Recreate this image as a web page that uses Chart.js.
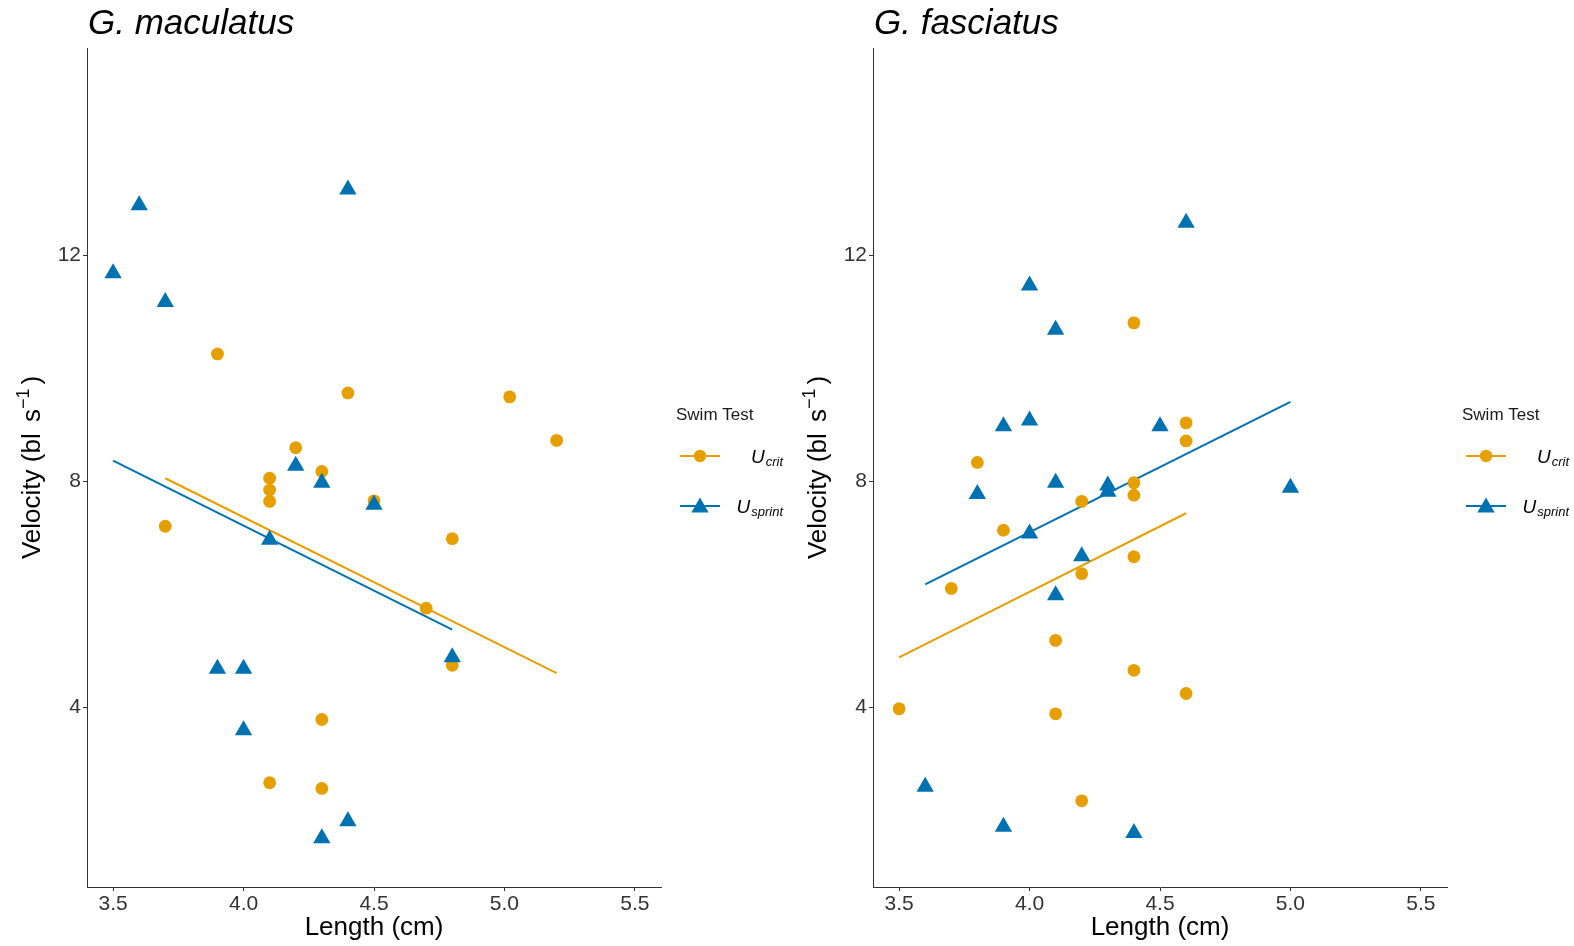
<!DOCTYPE html>
<html>
<head>
<meta charset="utf-8">
<title>Swim performance vs length</title>
<script src="https://cdn.jsdelivr.net/npm/chart.js@4.4.1/dist/chart.umd.min.js"></script>
<style>
  html, body { margin: 0; padding: 0; background: #fff; }
  #wrap { position: relative; width: 1574px; height: 946px; overflow: hidden; }
  canvas { position: absolute; top: 0; }
  #maculatus { left: 0; }
  #fasciatus { left: 786px; }
</style>
</head>
<body>
<div id="wrap">
  <canvas id="maculatus" width="787" height="946"></canvas>
  <canvas id="fasciatus" width="787" height="946"></canvas>
</div>
<script>
// G. maculatus
const macCritLength = [3.7, 3.9, 4.1, 4.1, 4.1, 4.1, 4.2, 4.3, 4.3, 4.3, 4.4, 4.5, 4.7, 4.8, 4.8, 5.02, 5.2];
const macCritVelocity = [7.21, 10.26, 8.06, 7.85, 7.65, 2.67, 8.60, 8.18, 3.79, 2.57, 9.57, 7.66, 5.76, 6.99, 4.75, 9.50, 8.73];
const macSprintLength = [3.5, 3.6, 3.7, 3.9, 4.0, 4.0, 4.1, 4.2, 4.3, 4.3, 4.4, 4.4, 4.5, 4.8];
const macSprintVelocity = [11.69, 12.89, 11.18, 4.69, 4.69, 3.60, 6.97, 8.28, 7.98, 1.69, 13.17, 1.99, 7.59, 4.89];
const macCritFitLength = [3.7, 5.2];
const macCritFitVelocity = [8.06, 4.61];
const macSprintFitLength = [3.5, 4.8];
const macSprintFitVelocity = [8.37, 5.38];

// G. fasciatus
const fasCritLength = [3.5, 3.7, 3.8, 3.9, 4.1, 4.1, 4.2, 4.2, 4.2, 4.4, 4.4, 4.4, 4.4, 4.4, 4.6, 4.6, 4.6];
const fasCritVelocity = [3.98, 6.11, 8.34, 7.14, 5.19, 3.89, 7.65, 6.37, 2.35, 10.81, 7.98, 7.76, 6.67, 4.66, 9.04, 8.72, 4.25];
const fasSprintLength = [3.6, 3.8, 3.9, 3.9, 4.0, 4.0, 4.0, 4.1, 4.1, 4.1, 4.2, 4.3, 4.3, 4.4, 4.5, 4.6, 5.0];
const fasSprintVelocity = [2.60, 7.78, 8.98, 1.89, 11.47, 9.08, 7.08, 10.69, 7.98, 5.99, 6.68, 7.93, 7.82, 1.78, 8.98, 12.58, 7.89];
const fasCritFitLength = [3.5, 4.6];
const fasCritFitVelocity = [4.89, 7.44];
const fasSprintFitLength = [3.6, 5.0];
const fasSprintFitVelocity = [6.18, 9.41];

const lengthTicks = [3.5, 4.0, 4.5, 5.0, 5.5];
const velocityTicks = [4, 8, 12];

const critColor = '#E69F00';
const sprintColor = '#0072B2';
const fontFamily = '"Liberation Sans", Arial, Helvetica, sans-serif';
const axisColor = '#333333';

const toPoints = (xs, ys) => xs.map((x, i) => ({ x: x, y: ys[i] }));

function drawMarker(ctx, style, radius, x, y, color) {
    ctx.fillStyle = color;
    ctx.beginPath();
    if (style === 'triangle') {
        for (let k = 0; k < 3; k++) {
            const a = k * 2 * Math.PI / 3;
            const px = x + Math.sin(a) * radius;
            const py = y - Math.cos(a) * radius;
            if (k === 0) ctx.moveTo(px, py); else ctx.lineTo(px, py);
        }
        ctx.closePath();
    } else {
        ctx.arc(x, y, radius, 0, Math.PI * 2);
    }
    ctx.fill();
}

// Panel title, y-axis title with superscript, and the "Swim Test" key
const panelDecor = {
    id: 'panelDecor',
    afterDraw(chart, args, opts) {
        const ctx = chart.ctx;
        const area = chart.chartArea;
        ctx.save();

        // title
        ctx.fillStyle = '#000';
        ctx.textAlign = 'left';
        ctx.textBaseline = 'alphabetic';
        ctx.font = 'italic 35px ' + fontFamily;
        ctx.fillText(opts.title, area.left + 1, 34);

        // y-axis title: Velocity (bl  s^-1 )
        const parts = [
            { text: 'Velocity (bl s', size: 26, rise: 0, gap: 4 },
            { text: '\u22121', size: 18, rise: 11, gap: 0 },
            { text: ')', size: 26, rise: 0, gap: 4 }
        ];
        let total = 0;
        parts.forEach(p => {
            ctx.font = p.size + 'px ' + fontFamily;
            p.w = ctx.measureText(p.text).width;
            total += p.w + p.gap;
        });
        ctx.translate(40, (area.top + area.bottom) / 2);
        ctx.rotate(-Math.PI / 2);
        let cx = -total / 2;
        parts.forEach((p, i) => {
            ctx.font = p.size + 'px ' + fontFamily;
            if (i === 0) {
                // widen the gap between "bl" and "s"
                const head = 'Velocity (bl';
                ctx.fillText(head, cx, 0);
                cx += ctx.measureText(head + ' ').width + p.gap;
                ctx.fillText('s', cx, 0);
                cx += ctx.measureText('s').width;
            } else {
                cx += p.gap;
                ctx.fillText(p.text, cx, -p.rise);
                cx += p.w;
            }
        });
        ctx.setTransform(1, 0, 0, 1, 0, 0);

        // key
        const R = area.right;
        ctx.font = '17px ' + fontFamily;
        ctx.fillStyle = '#1a1a1a';
        ctx.fillText('Swim Test', R + 15, 420);

        const keys = [
            { color: critColor, style: 'circle', radius: 6.2, sub: 'crit', y: 456 },
            { color: sprintColor, style: 'triangle', radius: 10, sub: 'sprint', y: 506 }
        ];
        keys.forEach(k => {
            ctx.strokeStyle = k.color;
            ctx.lineWidth = 2;
            ctx.beginPath();
            ctx.moveTo(R + 19, k.y);
            ctx.lineTo(R + 59, k.y);
            ctx.stroke();
            drawMarker(ctx, k.style, k.radius, R + 39, k.y + (k.style === 'triangle' ? 1.5 : 0), k.color);

            ctx.fillStyle = '#000';
            ctx.font = 'italic 13px ' + fontFamily;
            const subW = ctx.measureText(k.sub).width;
            ctx.font = 'italic 19px ' + fontFamily;
            const uW = ctx.measureText('U').width;
            const right = R + 122;
            ctx.fillText('U', right - subW - uW - 1, k.y + 7);
            ctx.font = 'italic 13px ' + fontFamily;
            ctx.fillText(k.sub, right - subW, k.y + 10);
        });

        ctx.restore();
    }
};

function buildPanel(canvasId, species, critLen, critVel, sprintLen, sprintVel,
                    critFitLen, critFitVel, sprintFitLen, sprintFitVel) {
    const ctx = document.getElementById(canvasId).getContext('2d');
    return new Chart(ctx, {
        type: 'scatter',
        data: {
            datasets: [
                {
                    label: 'Usprint',
                    data: toPoints(sprintLen, sprintVel),
                    pointStyle: 'triangle',
                    pointRadius: 10,
                    backgroundColor: sprintColor,
                    borderWidth: 0,
                    order: 1
                },
                {
                    label: 'Ucrit',
                    data: toPoints(critLen, critVel),
                    pointStyle: 'circle',
                    pointRadius: 6.4,
                    backgroundColor: critColor,
                    borderWidth: 0,
                    order: 2
                },
                {
                    label: 'Usprint fit',
                    data: toPoints(sprintFitLen, sprintFitVel),
                    showLine: true,
                    borderColor: sprintColor,
                    borderWidth: 2,
                    pointRadius: 0,
                    order: 3
                },
                {
                    label: 'Ucrit fit',
                    data: toPoints(critFitLen, critFitVel),
                    showLine: true,
                    borderColor: critColor,
                    borderWidth: 2,
                    pointRadius: 0,
                    order: 4
                }
            ]
        },
        options: {
            responsive: false,
            animation: false,
            layout: { padding: { top: 48, right: 126, left: 0, bottom: 0 } },
            plugins: {
                legend: { display: false },
                tooltip: { enabled: false },
                panelDecor: { title: species }
            },
            scales: {
                x: {
                    type: 'linear',
                    min: 3.4,
                    max: 5.6,
                    afterBuildTicks: s => { s.ticks = lengthTicks.map(v => ({ value: v })); },
                    afterFit: s => { s.height = 59; },
                    ticks: {
                        color: axisColor,
                        font: { family: fontFamily, size: 21 },
                        padding: 1,
                        maxRotation: 0,
                        autoSkip: false,
                        callback: v => v.toFixed(1)
                    },
                    grid: { drawOnChartArea: false, tickLength: 4, tickColor: axisColor, tickWidth: 1 },
                    border: { color: axisColor, width: 1 },
                    title: {
                        display: true,
                        text: 'Length (cm)',
                        color: '#000',
                        font: { family: fontFamily, size: 26 },
                        padding: { top: 0, bottom: 3 }
                    }
                },
                y: {
                    type: 'linear',
                    min: 0.825,
                    max: 15.675,
                    afterBuildTicks: s => { s.ticks = velocityTicks.map(v => ({ value: v })); },
                    afterFit: s => { s.width = 87; },
                    ticks: {
                        color: axisColor,
                        font: { family: fontFamily, size: 21 },
                        padding: 2,
                        callback: v => String(v)
                    },
                    grid: { drawOnChartArea: false, tickLength: 4, tickColor: axisColor, tickWidth: 1 },
                    border: { color: axisColor, width: 1 }
                }
            }
        },
        plugins: [panelDecor]
    });
}

buildPanel('maculatus', 'G. maculatus',
    macCritLength, macCritVelocity, macSprintLength, macSprintVelocity,
    macCritFitLength, macCritFitVelocity, macSprintFitLength, macSprintFitVelocity);

buildPanel('fasciatus', 'G. fasciatus',
    fasCritLength, fasCritVelocity, fasSprintLength, fasSprintVelocity,
    fasCritFitLength, fasCritFitVelocity, fasSprintFitLength, fasSprintFitVelocity);
</script>
</body>
</html>
